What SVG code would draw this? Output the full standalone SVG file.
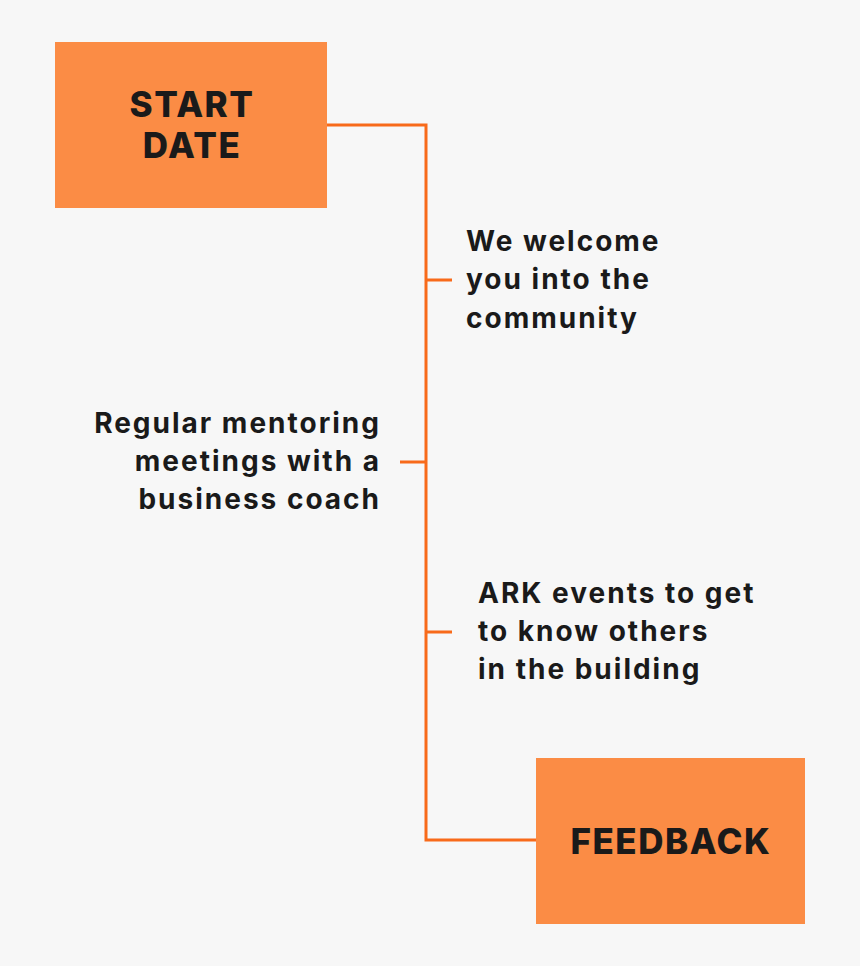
<svg xmlns="http://www.w3.org/2000/svg" width="860" height="966" viewBox="0 0 860 966">
<style>
.box{fill:#fb8c45}
.ln{stroke:#f86a1a;stroke-width:3;fill:none}
.t{font-family:Inter,"Liberation Sans",sans-serif;font-weight:700;fill:#1a1a1a}
.b{font-size:35px;font-weight:800;letter-spacing:1.5px}
.s{font-size:28px;letter-spacing:2px}
</style>
<rect width="860" height="966" fill="#f7f7f7"/>
<g id="connectors">
<path class="ln" d="M327 125H426V840H536"/>
<path class="ln" d="M426 280H452M400 462H426M426 632H452"/>
</g>
<g id="start"><rect class="box" x="55" y="42" width="272" height="166"/>
<text class="t b" x="192" y="117" text-anchor="middle">START</text>
<text class="t b" x="192" y="158" text-anchor="middle">DATE</text></g>
<g id="welcome"><text class="t s" x="466" y="251">We welcome</text>
<text class="t s" x="466" y="289">you into the</text>
<text class="t s" x="466" y="328">community</text></g>
<g id="mentoring"><text class="t s" x="381" y="433" text-anchor="end">Regular mentoring</text>
<text class="t s" x="381" y="471" text-anchor="end">meetings with a</text>
<text class="t s" x="381" y="509" text-anchor="end">business coach</text></g>
<g id="events"><text class="t s" x="478" y="603">ARK events to get</text>
<text class="t s" x="478" y="641">to know others</text>
<text class="t s" x="478" y="679">in the building</text></g>
<g id="feedback"><rect class="box" x="536" y="758" width="269" height="166"/>
<text class="t b" x="671" y="854" text-anchor="middle">FEEDBACK</text></g>
</svg>
